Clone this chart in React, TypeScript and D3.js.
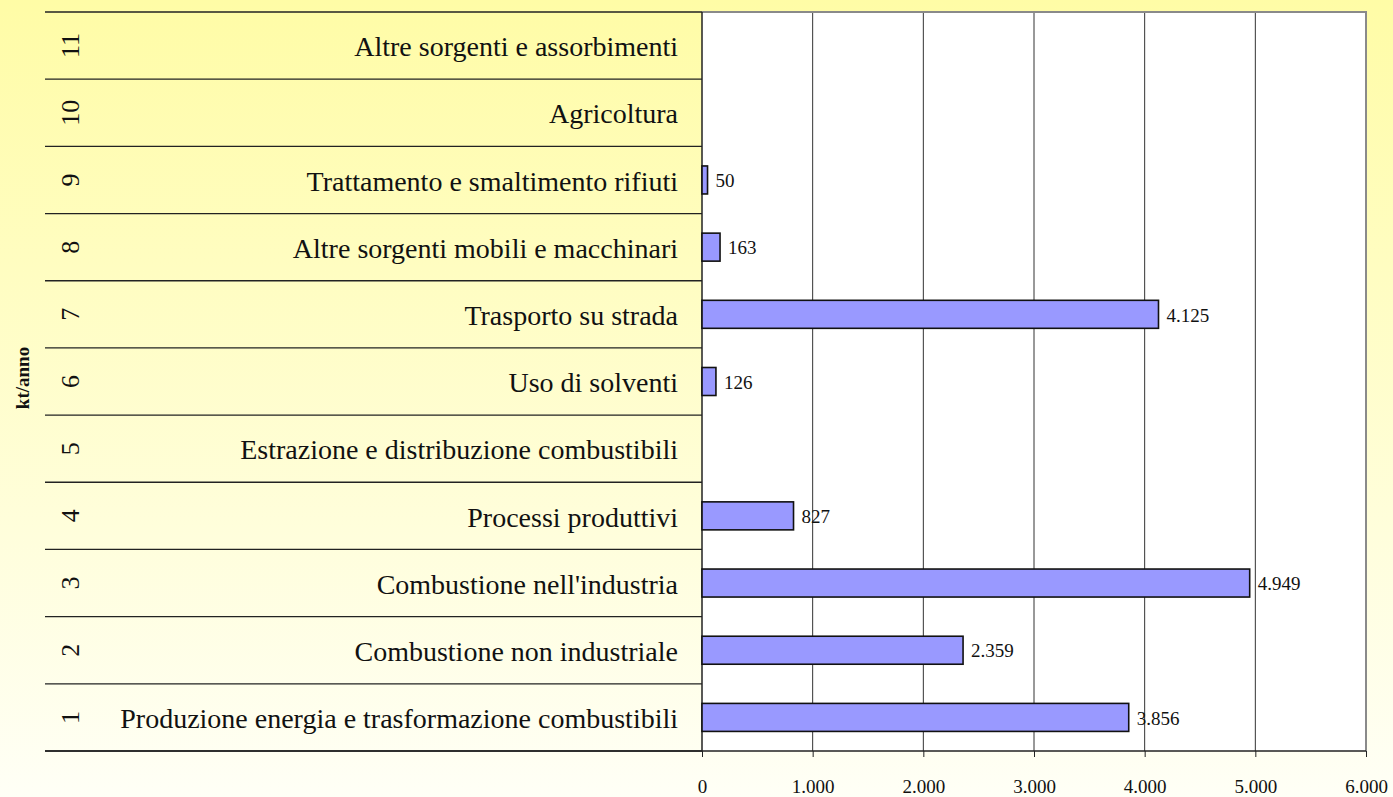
import { useEffect, useRef } from 'react';
import * as d3 from 'd3';

// Sector codes (bottom to top) and labels
const codes = ['1', '2', '3', '4', '5', '6', '7', '8', '9', '10', '11'];
const sectors = [
  'Produzione energia e trasformazione combustibili',
  'Combustione non industriale',
  "Combustione nell'industria",
  'Processi produttivi',
  'Estrazione e distribuzione combustibili',
  'Uso di solventi',
  'Trasporto su strada',
  'Altre sorgenti mobili e macchinari',
  'Trattamento e smaltimento rifiuti',
  'Agricoltura',
  'Altre sorgenti e assorbimenti',
];
// kt/anno, null where there is no bar
const values: (number | null)[] = [3856, 2359, 4949, 827, null, 126, 4125, 163, 50, null, null];
const xTicks = [0, 1000, 2000, 3000, 4000, 5000, 6000];
const axisTitle = 'kt/anno';

const fmt = (v: number) => d3.format(',')(v).replace(/,/g, '.');

const App = () => {
  const ref = useRef<SVGSVGElement>(null);

  useEffect(() => {
    if (!ref.current) return;
    const W = 1393;
    const H = 797;
    const svg = d3.select(ref.current);
    svg.selectAll('*').remove();

    const font = '"Liberation Serif", "DejaVu Serif", serif';

    // background gradient
    const defs = svg.append('defs');
    const grad = defs.append('linearGradient')
      .attr('id', 'bg')
      .attr('x1', 0).attr('y1', 0).attr('x2', 0).attr('y2', 1);
    grad.append('stop').attr('offset', '0%').attr('stop-color', '#fffca6');
    grad.append('stop').attr('offset', '100%').attr('stop-color', '#fffff6');
    svg.append('rect').attr('width', W).attr('height', H).attr('fill', 'url(#bg)');

    const plotLeft = 702;
    const plotRight = 1366;
    const top = 12;
    const bottom = 751;
    const tableLeft = 45;

    const x = d3.scaleLinear().domain([0, 6000]).range([plotLeft, plotRight]);
    const y = d3.scaleBand().domain(codes).range([bottom, top]).paddingInner(0).paddingOuter(0);

    // plot area
    svg.append('rect')
      .attr('x', plotLeft).attr('y', top)
      .attr('width', plotRight - plotLeft).attr('height', bottom - top)
      .attr('fill', '#ffffff');

    // gridlines
    svg.append('g')
      .selectAll('line')
      .data(xTicks.filter(d => d > 0 && d < 6000))
      .join('line')
      .attr('x1', d => x(d)).attr('x2', d => x(d))
      .attr('y1', top).attr('y2', bottom)
      .attr('stroke', '#333').attr('stroke-width', 1);

    // plot border top/right (gray)
    svg.append('path')
      .attr('d', `M${plotLeft},${top}H${plotRight}V${bottom}`)
      .attr('fill', 'none').attr('stroke', '#8a8a8a').attr('stroke-width', 2);

    // table row separators
    const bounds = codes.map(c => y(c)!).concat([bottom]);
    svg.append('g')
      .selectAll('line')
      .data(bounds)
      .join('line')
      .attr('x1', tableLeft).attr('x2', plotLeft)
      .attr('y1', d => d).attr('y2', d => d)
      .attr('stroke', '#222').attr('stroke-width', 1.3);

    // bottom axis
    svg.append('line')
      .attr('x1', tableLeft).attr('x2', plotRight)
      .attr('y1', bottom).attr('y2', bottom)
      .attr('stroke', '#222').attr('stroke-width', 1.3);
    svg.append('line')
      .attr('x1', plotLeft).attr('x2', plotLeft)
      .attr('y1', top).attr('y2', bottom)
      .attr('stroke', '#222').attr('stroke-width', 1.5);

    const xAxis = svg.append('g')
      .attr('transform', `translate(0,${bottom})`)
      .call(d3.axisBottom(x).tickValues(xTicks).tickSize(6).tickPadding(23).tickFormat(d => fmt(+d)));
    xAxis.select('.domain').remove();
    xAxis.selectAll('.tick line').attr('stroke', '#222');
    xAxis.selectAll('text')
      .attr('fill', '#111')
      .style('font-family', font)
      .style('font-size', '19px');

    const bw = y.bandwidth();

    // row numbers (rotated)
    svg.append('g')
      .selectAll('text')
      .data(codes)
      .join('text')
      .attr('transform', d => `translate(70,${y(d)! + bw / 2}) rotate(-90)`)
      .attr('text-anchor', 'middle')
      .attr('dy', '0.35em')
      .style('font-family', font)
      .style('font-size', '26px')
      .attr('fill', '#111')
      .text(d => d);

    // sector labels
    svg.append('g')
      .selectAll('text')
      .data(codes)
      .join('text')
      .attr('x', 678)
      .attr('y', d => y(d)! + bw / 2)
      .attr('dy', '0.38em')
      .attr('text-anchor', 'end')
      .style('font-family', font)
      .style('font-size', '28px')
      .attr('fill', '#111')
      .text((d, i) => sectors[i]);

    // axis title
    svg.append('text')
      .attr('transform', `translate(22,378) rotate(-90)`)
      .attr('text-anchor', 'middle')
      .attr('dy', '0.35em')
      .style('font-family', font)
      .style('font-size', '19px')
      .style('font-weight', 'bold')
      .attr('fill', '#111')
      .text(axisTitle);

    // bars
    const barH = 28;
    const barData = codes
      .map((c, i) => ({ code: c, value: values[i] }))
      .filter(d => d.value !== null) as { code: string; value: number }[];

    svg.append('g')
      .selectAll('rect')
      .data(barData)
      .join('rect')
      .attr('x', x(0))
      .attr('y', d => y(d.code)! + bw / 2 - barH / 2)
      .attr('width', d => x(d.value) - x(0))
      .attr('height', barH)
      .attr('fill', '#9999ff')
      .attr('stroke', '#111')
      .attr('stroke-width', 1.6);

    svg.append('g')
      .selectAll('text')
      .data(barData)
      .join('text')
      .attr('x', d => x(d.value) + 8)
      .attr('y', d => y(d.code)! + bw / 2)
      .attr('dy', '0.38em')
      .style('font-family', font)
      .style('font-size', '19px')
      .attr('fill', '#111')
      .text(d => fmt(d.value));
  }, []);

  return (
    <svg
      ref={ref}
      width={1393}
      height={797}
      style={{ position: 'absolute', left: 0, top: 0, display: 'block' }}
    />
  );
};

export default App;
